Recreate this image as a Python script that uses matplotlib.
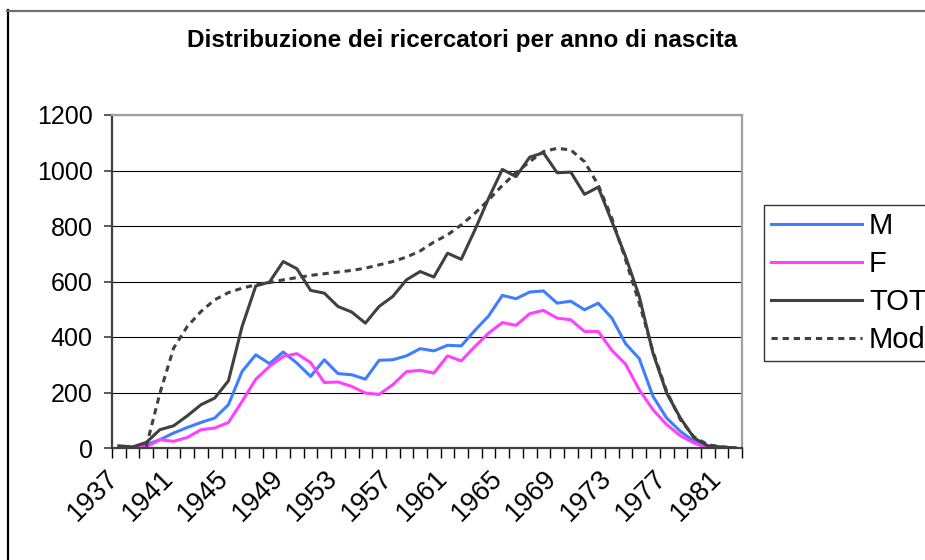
import numpy as np
import matplotlib
matplotlib.use("Agg")
import matplotlib.pyplot as plt
from matplotlib.lines import Line2D
from matplotlib.transforms import ScaledTranslation

plt.rcParams['font.family'] = ['Liberation Sans', 'DejaVu Sans']
plt.rcParams['lines.scale_dashes'] = False

# Dati: anni di nascita 1937-1982
anni = list(range(1937, 1983))
m = [2, 2, 12, 30, 54, 74, 92, 108, 156, 276, 336, 304, 346, 306, 258, 318,
     268, 264, 248, 316, 318, 332, 358, 350, 370, 368, 424, 476, 550, 538,
     562, 566, 522, 529, 498, 522, 468, 376, 322, 186, 108, 60, 24, 2, 0, 0]
f = [0, 0, 4, 30, 24, 38, 66, 72, 92, 168, 248, 294, 330, 340, 308, 236,
     238, 222, 198, 193, 228, 275, 280, 270, 332, 314, 366, 414, 452, 442,
     484, 496, 468, 462, 420, 420, 352, 302, 210, 138, 84, 44, 18, 0, 0, 0]
tot = [8, 4, 20, 66, 80, 116, 156, 180, 242, 438, 584, 598, 672, 646, 568,
       558, 510, 490, 450, 510, 546, 606, 636, 616, 702, 680, 786, 900, 1004,
       978, 1048, 1064, 992, 994, 914, 940, 816, 690, 546, 342, 198, 108, 36,
       8, 4, 0]
mod = [np.nan, np.nan, 5, 198, 360, 438, 492, 534, 560, 576, 588, 596, 606,
       614, 622, 628, 634, 640, 648, 660, 672, 688, 710, 742, 768, 804, 846,
       894, 946, 992, 1032, 1068, 1080, 1074, 1032, 948, 828, 678, 522, 348,
       204, 102, 40, 12, 4, 0]
titolo = "Distribuzione dei ricercatori per anno di nascita"

fig = plt.figure(figsize=(9.25, 5.6), dpi=100)
ax = fig.add_axes([112 / 925, 1 - 448 / 560, 630 / 925, 333 / 560])

x = np.arange(len(anni))
ax.plot(x, m, color='#3F7FFF', lw=2.2, label='M')
ax.plot(x, f, color='#FF40FF', lw=2.2, label='F')
ax.plot(x, tot, color='#404040', lw=2.2, label='TOT')
ax.plot(x, mod, color='#404040', lw=2.2, dashes=(4.5, 3.5), label='Mod')

ax.set_xlim(-0.5, len(anni) - 0.5)
ax.set_ylim(0, 1200)
ax.set_yticks(range(0, 1201, 200))
ax.yaxis.grid(True, color='black', lw=0.8)
ax.set_axisbelow(True)
ax.tick_params(axis='y', labelsize=18, length=6, width=1.2, color='#404040', pad=8)

# tacche ai confini delle categorie, etichette ogni 4 anni
ax.set_xticks(np.arange(-0.5, len(anni)), minor=True)
ax.set_xticks(x[::4])
ax.set_xticklabels([str(a) for a in anni[::4]], rotation=45, ha='right',
                   va='center', rotation_mode='anchor')
ax.tick_params(axis='x', which='major', length=0, labelsize=19.5, pad=19)
ax.tick_params(axis='x', which='minor', length=7, width=1, color='black')
for lab in ax.get_xticklabels():
    lab.set_transform(lab.get_transform() + ScaledTranslation(-0.04, 0, fig.dpi_scale_trans))

for s in ['top', 'right']:
    ax.spines[s].set_color('#a0a0a0')
    ax.spines[s].set_linewidth(1.6)
for s in ['left', 'bottom']:
    ax.spines[s].set_color('#404040')
    ax.spines[s].set_linewidth(1.6)

fig.text(462 / 925, 1 - 40 / 560, titolo, ha='center', va='center',
         fontsize=17.5, fontweight='bold')

leg = fig.legend(loc='upper left', bbox_to_anchor=(764 / 925, 1 - 205 / 560),
                 fontsize=21, frameon=True, fancybox=False, borderaxespad=0,
                 handlelength=3.1, handletextpad=0.25, labelspacing=0.34,
                 borderpad=0.25)
leg.get_frame().set_edgecolor('black')
leg.get_frame().set_linewidth(1)

# bordo esterno del grafico
fig.add_artist(Line2D([7.5 / 925, 7.5 / 925], [0, 1 - 10 / 560], color='black', lw=1.6))
fig.add_artist(Line2D([7 / 925, 1], [1 - 10.5 / 560, 1 - 10.5 / 560], color='#707070', lw=1.6))

fig.savefig('out.png', dpi=100)
